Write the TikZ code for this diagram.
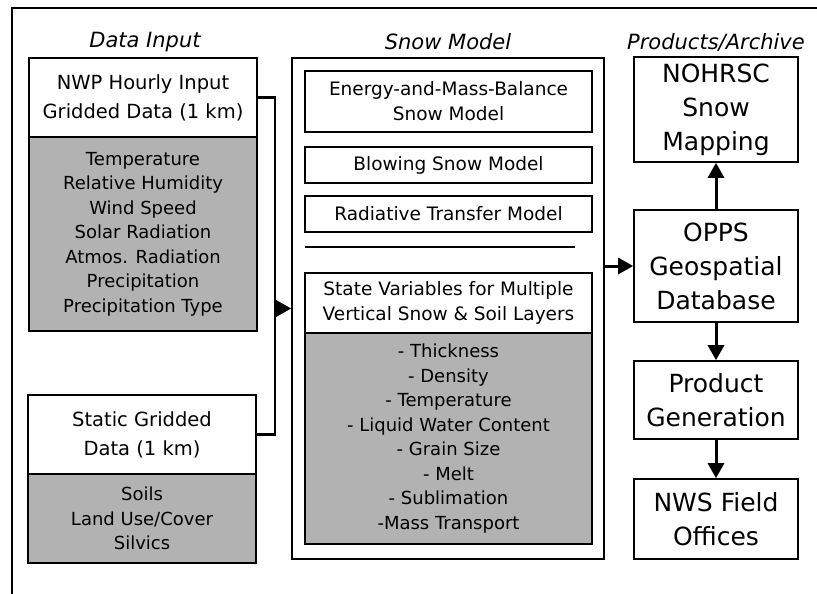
\documentclass[tikz,border=0pt]{standalone}
\usepackage{fontspec}
\setmainfont{DejaVu Sans}
\usetikzlibrary{arrows.meta}
\begin{document}
\begin{tikzpicture}[x=1pt,y=-1pt,
 box/.style={draw, line width=1.6pt, fill=white, inner sep=0pt, align=center},
 shaded/.style={box, fill=black!30},
 lt/.style={font=\fontsize{19.5}{29}\selectfont},
 lst/.style={font=\fontsize{18}{24.5}\selectfont},
 mt/.style={font=\fontsize{18.5}{25}\selectfont},
 rt/.style={font=\fontsize{25}{34}\selectfont},
 title/.style={font=\fontsize{21}{25}\selectfont\itshape},
 arr/.style={line width=3pt, -{Triangle[length=15pt,width=16pt]}},
 conn/.style={line width=2.5pt},
 frame/.style={line width=1.5pt}]
\useasboundingbox (0,0) rectangle (817,594);
% frame
\coordinate (f1) at (12,594);
\coordinate (f2) at (12,8);
\coordinate (f3) at (817,8);
\draw[frame] (f1) -- (f2) -- (f3);
% titles
\node[title] (t1) at (145,42) {Data Input};
\node[title] (t2) at (448,42) {Snow Model};
\node[title] (t3) at (716,42) {Products/Archive};
% data input
\node[box,lt,minimum width=228,minimum height=79] (nwp) at (143,97.5) {NWP Hourly Input\\Gridded Data (1 km)};
\node[shaded,lst,minimum width=228,minimum height=194] (nwpv) at (143,234) {Temperature\\Relative Humidity\\Wind Speed\\Solar Radiation\\Atmos. Radiation\\Precipitation\\Precipitation Type};
\node[box,lt,minimum width=228,minimum height=79] (stat) at (142,434.5) {Static Gridded\\Data (1 km)};
\node[shaded,lst,minimum width=228,minimum height=89] (statv) at (142,518.5) {Soils\\Land Use/Cover\\Silvics};
% snow model
\node[box,minimum width=312,minimum height=501] (snow) at (448,308.5) {};
\node[box,mt,minimum width=287,minimum height=61] (emb) at (448.5,101.5) {Energy-and-Mass-Balance\\Snow Model};
\node[box,mt,minimum width=287,minimum height=36] (blow) at (448.5,165) {Blowing Snow Model};
\node[box,mt,minimum width=287,minimum height=36] (rad) at (448.5,214) {Radiative Transfer Model};
\coordinate (s1) at (305,247);
\coordinate (s2) at (575,247);
\draw[line width=1.2pt] (s1) -- (s2);
\node[box,mt,minimum width=287,minimum height=60] (state) at (448.5,303) {State Variables for Multiple\\Vertical Snow \& Soil Layers};
\node[shaded,lst,minimum width=287,minimum height=211] (statev) at (448.5,438.5) {- Thickness\\- Density\\- Temperature\\- Liquid Water Content\\- Grain Size\\- Melt\\- Sublimation\\-Mass Transport};
% products
\node[box,rt,minimum width=164,minimum height=105] (noh) at (716,109.5) {NOHRSC\\Snow\\Mapping};
\node[box,rt,minimum width=164,minimum height=112] (opps) at (716,266) {OPPS\\Geospatial\\Database};
\node[box,rt,minimum width=164,minimum height=78] (prod) at (716,400) {Product\\Generation};
\node[box,rt,minimum width=164,minimum height=80] (nws) at (716,519) {NWS Field\\Offices};
% connectors
\coordinate (j) at (275,308.5);
\draw[conn] (nwp.east) -| (j) |- (stat.east);
\draw[arr] (j) -- (snow.west);
\draw[arr] (snow.east |- opps.west) -- (opps.west);
\draw[arr] (opps.north) -- (noh.south);
\draw[arr] (opps.south) -- (prod.north);
\draw[arr] (prod.south) -- (nws.north);
\end{tikzpicture}
\end{document}
